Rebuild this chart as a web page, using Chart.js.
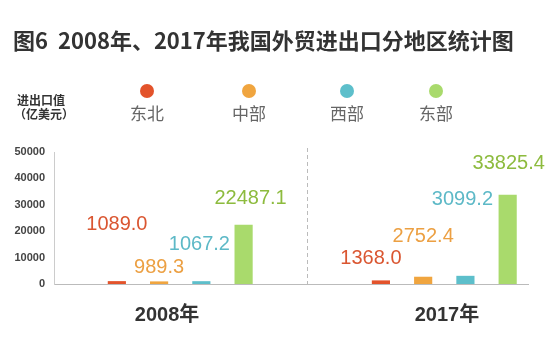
<!DOCTYPE html>
<html>
<head>
<meta charset="utf-8">
<script src="https://cdn.jsdelivr.net/npm/chart.js@4"></script>
<style>
  html, body { margin: 0; padding: 0; background: #fff; }
</style>
</head>
<body>
<canvas id="tradeChart" width="554" height="340"></canvas>
<script>
// data (亿美元)
const years = ['2008年', '2017年'];
const regions = ['东北', '中部', '西部', '东部'];
const northeast = [1089.0, 1368.0];
const central = [989.3, 2752.4];
const west = [1067.2, 3099.2];
const east = [22487.1, 33825.4];
const yTicks = [0, 10000, 20000, 30000, 40000, 50000];

const titleText = '图6  2008年、2017年我国外贸进出口分地区统计图';
const unitLines = ['进出口值', '（亿美元）'];

const barColors = ['#E3532B', '#F0A53F', '#5DBFCB', '#A9DA6C'];
const textColors = ['#DA5631', '#ECA043', '#5DB9C7', '#8DBB3E'];

// where the value labels sit (in axis units) and a small sideways nudge (px)
const labelLevel = [[22400, 9700], [6300, 17900], [14900, 32100], [32500, 45500]];
const labelNudge = [[0, -10], [0, 0], [-2, -3], [7, 1]];
const legendX = [147, 249, 347, 436];

const cjk = '"Noto Sans CJK SC", "Liberation Sans", sans-serif';
const latin = '"Liberation Sans", "Noto Sans CJK SC", sans-serif';

const series = [northeast, central, west, east];

const decor = {
    id: 'decor',
    beforeDraw(chart) {
        const ctx = chart.ctx;
        ctx.save();
        // title
        ctx.fillStyle = '#333';
        ctx.font = 'bold 22px ' + cjk;
        ctx.textAlign = 'left';
        ctx.textBaseline = 'middle';
        ctx.fillText(titleText, 13, 41);

        // unit note
        ctx.font = 'bold 12px ' + cjk;
        ctx.fillText(unitLines[0], 17, 100);
        ctx.fillText(unitLines[1], 14, 114);

        // legend: dot above name
        ctx.textAlign = 'center';
        ctx.font = '17px ' + cjk;
        regions.forEach((name, i) => {
            ctx.fillStyle = barColors[i];
            ctx.beginPath();
            ctx.arc(legendX[i], 91, 7, 0, Math.PI * 2);
            ctx.fill();
            ctx.fillStyle = '#666';
            ctx.fillText(name, legendX[i], 114);
        });

        // dashed divider between the two years
        const x = chart.scales.x.getPixelForValue(0.48);
        ctx.strokeStyle = '#bbb';
        ctx.lineWidth = 1;
        ctx.setLineDash([4, 3]);
        ctx.beginPath();
        ctx.moveTo(Math.round(x) + 0.5, 148);
        ctx.lineTo(Math.round(x) + 0.5, chart.chartArea.bottom);
        ctx.stroke();
        ctx.restore();
    },
    afterDatasetsDraw(chart) {
        const ctx = chart.ctx;
        const yScale = chart.scales.y;
        ctx.save();
        ctx.font = '20px ' + latin;
        ctx.textAlign = 'center';
        ctx.textBaseline = 'middle';
        chart.data.datasets.forEach((ds, d) => {
            chart.getDatasetMeta(d).data.forEach((bar, i) => {
                ctx.fillStyle = textColors[d];
                ctx.fillText(ds.data[i].y.toFixed(1),
                    bar.x + labelNudge[d][i],
                    yScale.getPixelForValue(labelLevel[d][i]));
            });
        });
        ctx.restore();
    }
};

const ctx = document.getElementById('tradeChart').getContext('2d');
new Chart(ctx, {
    type: 'bar',
    data: {
        datasets: regions.map((name, d) => ({
            label: name,
            data: series[d].map((v, i) => ({ x: i, y: v })),
            backgroundColor: barColors[d],
            categoryPercentage: 0.64,
            barPercentage: 0.43
        }))
    },
    options: {
        responsive: false,
        animation: false,
        layout: { padding: { top: 152, right: 26, left: 0, bottom: 0 } },
        plugins: {
            legend: { display: false },
            title: { display: false },
            tooltip: { enabled: false }
        },
        scales: {
            x: {
                type: 'linear',
                offset: false,
                min: -0.478,
                max: 1.317,
                grid: { display: false, drawTicks: false, offset: false },
                border: { display: true, color: '#bbb' },
                afterBuildTicks: (scale) => {
                    scale.ticks = years.map((_, i) => ({ value: i + (i === 0 ? -0.05 : 0.01) }));
                },
                afterFit: (scale) => { scale.height = 56; },
                ticks: {
                    padding: 19,
                    color: '#333',
                    font: { family: latin, size: 20, weight: 'bold' },
                    callback: (v, idx) => years[idx]
                }
            },
            y: {
                min: 0,
                max: 50000,
                grid: { display: false, drawTicks: false },
                border: { display: true, color: '#ccc' },
                afterBuildTicks: (scale) => {
                    scale.ticks = yTicks.map(v => ({ value: v }));
                },
                afterFit: (scale) => { scale.width = 54; },
                ticks: {
                    padding: 9,
                    color: '#444',
                    font: { family: latin, size: 11, weight: 'bold' },
                    callback: (v) => String(v)
                }
            }
        }
    },
    plugins: [decor]
});
</script>
</body>
</html>
